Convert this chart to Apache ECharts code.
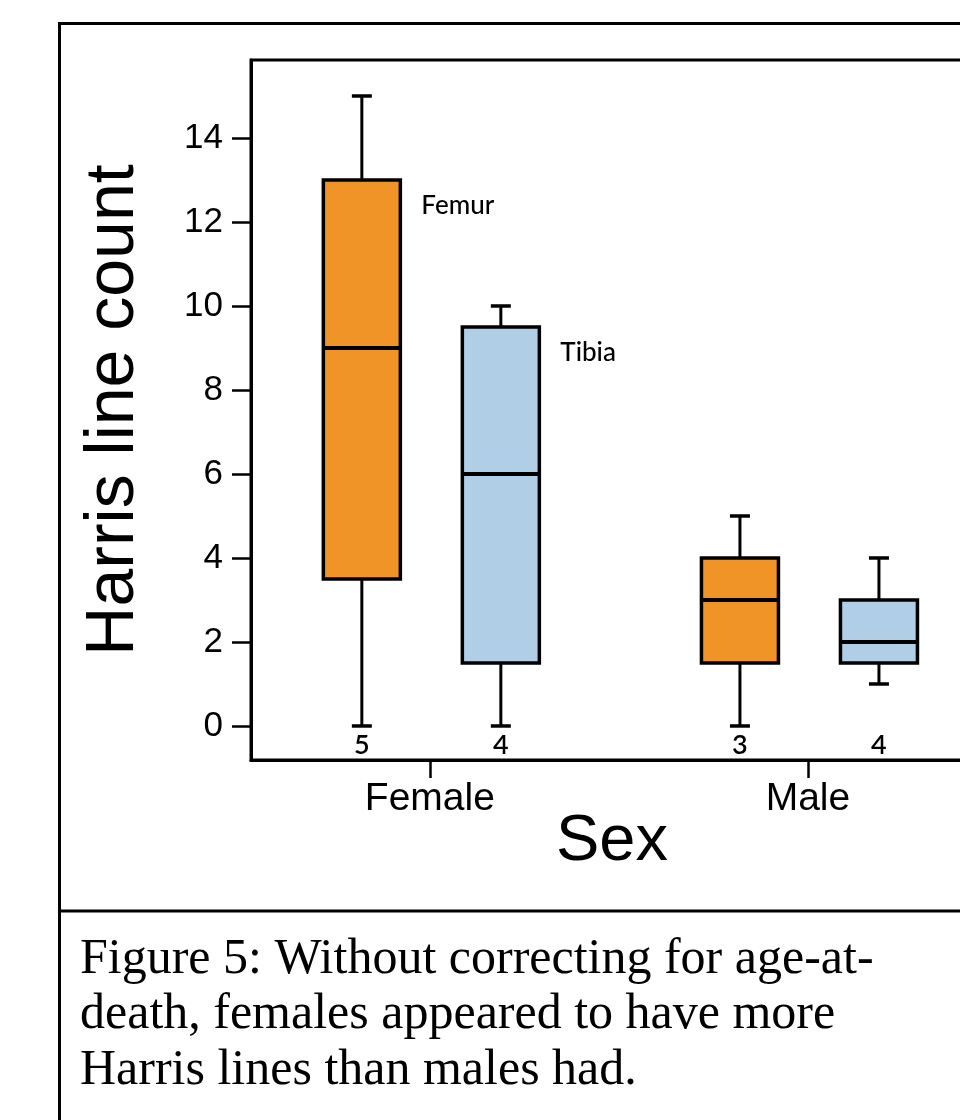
<!DOCTYPE html>
<html>
<head>
<meta charset="utf-8">
<script src="https://cdn.jsdelivr.net/npm/echarts@6/dist/echarts.min.js"></script>
<style>
  html, body { margin: 0; padding: 0; background: #fff; overflow: hidden; width: 960px; height: 1120px; }
  #chart { width: 1000px; height: 1120px; }
</style>
</head>
<body>
<div id="chart"></div>
<script>
// ---- data ----
const sexes = ['Female', 'Male'];
const bones = ['Femur', 'Tibia'];
const yTicks = [0, 2, 4, 6, 8, 10, 12, 14];

const femurMin = [0, 0];
const femurQ1 = [3.5, 1.5];
const femurMedian = [9, 3];
const femurQ3 = [13, 4];
const femurMax = [15, 5];
const femurN = [5, 3];

const tibiaMin = [0, 1];
const tibiaQ1 = [1.5, 1.5];
const tibiaMedian = [6, 2];
const tibiaQ3 = [9.5, 3];
const tibiaMax = [10, 4];
const tibiaN = [4, 4];

const captionLines = [
  'Figure 5: Without correcting for age-at-',
  'death, females appeared to have more',
  'Harris lines than males had.'
];

// ---- build ----
function rows(mins, q1s, meds, q3s, maxs, ns) {
  return sexes.map((s, i) => [i + 1, mins[i], q1s[i], meds[i], q3s[i], maxs[i], ns[i]]);
}

const colors = { Femur: '#F19428', Tibia: '#B0CEE6' };
const offsets = { Femur: -68, Tibia: 71 };

function makeRender(bone) {
  return function (params, api) {
    const xv = api.value(0);
    const p = (v) => api.coord([xv, v]);
    const cx = p(0)[0] + offsets[bone];
    const yMin = p(api.value(1))[1];
    const yQ1 = p(api.value(2))[1];
    const yMed = p(api.value(3))[1];
    const yQ3 = p(api.value(4))[1];
    const yMax = p(api.value(5))[1];
    const yZero = p(0)[1];
    const hw = 38.5, cap = 10;
    const line = { stroke: '#000', lineWidth: 3 };
    const children = [
      { type: 'line', shape: { x1: cx, y1: yMax, x2: cx, y2: yQ3 }, style: line },
      { type: 'line', shape: { x1: cx, y1: yQ1, x2: cx, y2: yMin }, style: line },
      { type: 'line', shape: { x1: cx - cap, y1: yMax, x2: cx + cap, y2: yMax }, style: { stroke: '#000', lineWidth: 3.5 } },
      { type: 'line', shape: { x1: cx - cap, y1: yMin, x2: cx + cap, y2: yMin }, style: { stroke: '#000', lineWidth: 3.5 } },
      { type: 'rect', shape: { x: cx - hw, y: yQ3, width: hw * 2, height: yQ1 - yQ3 },
        style: { fill: colors[bone], stroke: '#000', lineWidth: 3.5 } },
      { type: 'line', shape: { x1: cx - hw, y1: yMed, x2: cx + hw, y2: yMed },
        style: { stroke: '#000', lineWidth: 4 } },
      { type: 'text', x: cx, y: yZero + 19,
        style: { text: String(api.value(6)), fill: '#000', font: '600 27px Lato',
                 align: 'center', verticalAlign: 'middle' } }
    ];
    if (params.dataIndex === 0) {
      children.push({ type: 'text', x: cx + hw + 21, y: yQ3 + 26,
        style: { text: bone, fill: '#000', font: '500 26px Lato',
                 align: 'left', verticalAlign: 'middle' } });
    }
    return { type: 'group', children };
  };
}

const chart = echarts.init(document.getElementById('chart'));
chart.setOption({
  backgroundColor: '#fff',
  animation: false,
  grid: { left: 251, top: 60, right: 3, bottom: 360, show: true,
          borderColor: '#000', borderWidth: 3, backgroundColor: 'transparent' },
  xAxis: {
    type: 'value', min: 0.527, max: 2.5,
    splitLine: { show: false },
    axisLine: { show: true, onZero: false, lineStyle: { color: '#000', width: 3 } },
    axisTick: { show: true, customValues: [1, 2], length: 18, lineStyle: { color: '#000', width: 2.5 } },
    axisLabel: { customValues: [1, 2], formatter: (v) => sexes[Math.round(v) - 1] || '',
                 fontSize: 39, fontFamily: 'Liberation Sans', color: '#000', margin: 20 },
    name: 'Sex', nameLocation: 'middle', nameGap: 50, nameMoveOverlap: false,
    nameTextStyle: { fontSize: 65, fontFamily: 'Liberation Sans', color: '#000', padding: [0, 24, 0, 0] }
  },
  yAxis: {
    type: 'value', min: -0.81, max: 15.857,
    splitLine: { show: false },
    axisLine: { show: true, onZero: false, lineStyle: { color: '#000', width: 3 } },
    axisTick: { show: true, customValues: yTicks, length: 19, lineStyle: { color: '#000', width: 2.5 } },
    axisLabel: { customValues: yTicks, fontSize: 35, fontFamily: 'Liberation Sans', color: '#000', margin: 28 },
    name: 'Harris line count', nameLocation: 'middle', nameRotate: 90, nameGap: 103, nameMoveOverlap: false,
    nameTextStyle: { fontSize: 68, fontFamily: 'Liberation Sans', color: '#000' }
  },
  series: bones.map((bone) => ({
    type: 'custom', name: bone, clip: false,
    renderItem: makeRender(bone),
    encode: { x: 0, y: [1, 2, 3, 4, 5] },
    data: bone === 'Femur'
      ? rows(femurMin, femurQ1, femurMedian, femurQ3, femurMax, femurN)
      : rows(tibiaMin, tibiaQ1, tibiaMedian, tibiaQ3, tibiaMax, tibiaN)
  })),
  graphic: [
    { type: 'polyline', shape: { points: [[59.5, 1125], [59.5, 23.5], [1005, 23.5]] },
      style: { stroke: '#000', lineWidth: 3, fill: null } },
    { type: 'line', shape: { x1: 59, y1: 911, x2: 1005, y2: 911 },
      style: { stroke: '#000', lineWidth: 3 } },
    { type: 'text', left: 80, top: 932,
      style: { text: captionLines.join('\n'), font: '50px "Liberation Serif"', lineHeight: 55.5, fill: '#000' } }
  ]
});
</script>
</body>
</html>
